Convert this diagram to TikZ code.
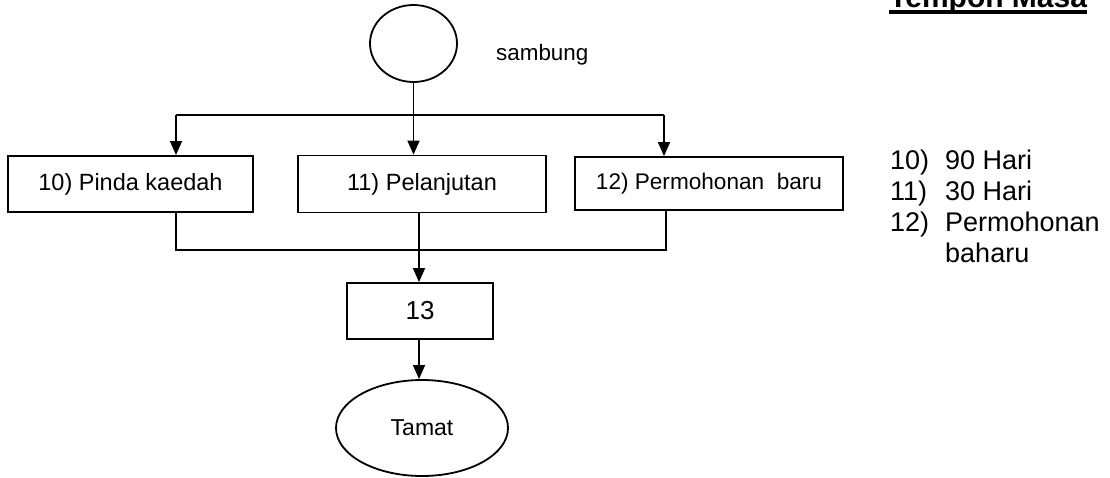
\documentclass[tikz,border=0pt]{standalone}
\usepackage{fontspec}
\setmainfont{Liberation Sans}
\usetikzlibrary{arrows.meta,shapes.geometric}
\begin{document}
\begin{tikzpicture}[x=1pt,y=-1pt,
  boxnode/.style={draw,line width=1.8pt,rectangle,inner sep=0pt,font=\fontsize{23.5}{28}\selectfont},
  ovalnode/.style={draw,line width=1.8pt,ellipse,inner sep=0pt},
  link/.style={line width=1.5pt},
  arr/.style={link,-{Triangle[width=12pt,length=14pt]}}
]
\useasboundingbox (0,0) rectangle (1110,477);

% start connector and note
\node[ovalnode,minimum width=87pt,minimum height=77pt] (start) at (413.5,43.5) {};
\node[anchor=base west,inner sep=0pt,font=\fontsize{22.4}{27}\selectfont] (note) at (496,60) {sambung};

% the three branches
\node[boxnode,minimum width=245pt,minimum height=56pt] (b1) at (130.5,184) {10) Pinda kaedah};
\node[boxnode,minimum width=248pt,minimum height=57pt] (b2) at (422,184) {11) Pelanjutan};
\node[boxnode,minimum width=268pt,minimum height=53pt,font=\fontsize{22.6}{27}\selectfont] (b3) at (709,183.5) {12) Permohonan\ \ baru};

% merge and end
\node[boxnode,minimum width=146pt,minimum height=56pt,font=\fontsize{26}{30}\selectfont] (b13) at (420,311) {13};
\node[ovalnode,minimum width=172pt,minimum height=96pt,font=\fontsize{23}{28}\selectfont] (end) at (422,428) {Tamat};

% split bus
\coordinate (busL) at (176,115);
\coordinate (busR) at (664,115);
\draw[link] (start.south) -- (start.south |- busL);
\draw[link] (busL) -- (busR);
\draw[arr] (busL) -- (busL |- b1.north);
\draw[arr] (start.south |- busL) -- (start.south |- b2.north);
\draw[arr] (busR) -- (busR |- b3.north);

% merge bus
\coordinate (mL) at (176,250);
\coordinate (mR) at (666,250);
\coordinate (mC) at (419,250);
\draw[link] (mL |- b1.south) -- (mL) -- (mR) -- (mR |- b3.south);
\draw[link] (mC |- b2.south) -- (mC);
\draw[arr] (mC) -- (mC |- b13.north);
\draw[arr] (mC |- b13.south) -- (mC |- end.north);

% duration list
\node[anchor=base west,inner sep=0pt,font=\bfseries\fontsize{30}{34}\selectfont] (title) at (889,7) {Tempoh Masa};
\draw[line width=3.5pt] ([yshift=-5pt]title.base west) -- ([yshift=-5pt]title.base east);
\node[anchor=base west,inner sep=0pt,font=\fontsize{27}{31}\selectfont] (list) at (890,169)
  {\begin{tabular}[t]{@{}p{55pt}@{}l@{}}
   10) & 90 Hari\\
   11) & 30 Hari\\
   12) & Permohonan\\
       & baharu
   \end{tabular}};
\end{tikzpicture}
\end{document}
